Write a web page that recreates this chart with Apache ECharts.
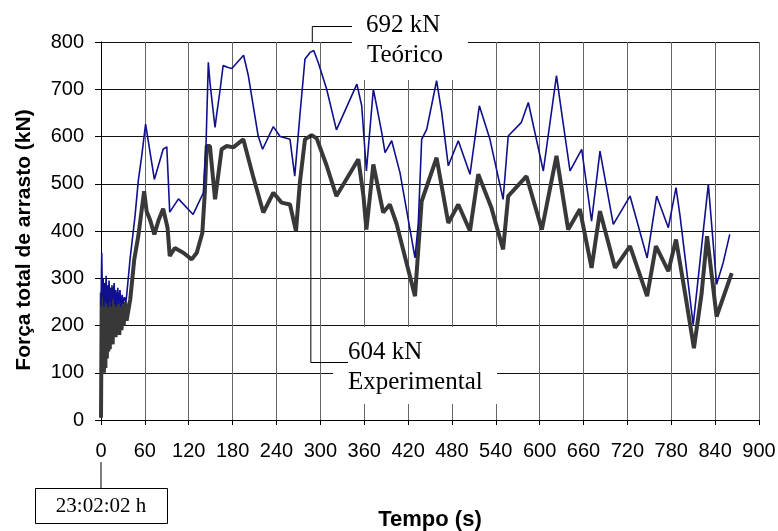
<!DOCTYPE html>
<html>
<head>
<meta charset="utf-8">
<script src="https://cdn.jsdelivr.net/npm/echarts@6/dist/echarts.min.js"></script>
<style>
html,body{margin:0;padding:0;background:#fff;}
#chart{width:778px;height:531px;}
</style>
</head>
<body>
<div id="chart"></div>
<script>
// Experimental series (time s, force kN)
const timeExp = [0,1,2,3,4,5,6,7,8,9,10,11,12,13,14,15,16,17,18,19,20,21,22,24,25,27,28,30,31,33,35,
  40,45.5,51,59,62.4,67,73,79,85,91,94,101,112.6,124,131,138.6,142,144.6,149,156,
  165,172,181,194.6,208,222,235.7,247,258.5,266.7,272,279,288,295,308.7,322,352,359,363,372.5,
  386,395,404,429.5,438.6,459,475,488.7,504.7,516,534,550,557,582,603,623,639,655,671,682.5,
  703,723.6,747,759,776,786.5,798.8,811,821.6,829,842,862.7];
const valExp = [5,270,160,280,100,260,110,270,130,250,145,275,150,260,165,270,160,255,175,260,175,250,180,245,180,250,190,240,200,250,210,
  255,340,389,484,442,424,393,424,447,407,347,364,354,340,354,396,481,580,580,467,
  573,580,577,594,516,439,481,460,456,400,502,594,603,596,538,474,552,474,403,541,
  439,456,417,262,463,555,417,456,400,520,449,361,474,516,403,559,403,446,322,442,
  322,368,262,368,315,382,269,152,269,389,219,311];
// Theoretical series
const timeTeo = [0,1,2,3,4,5,6,7,8,9,10,11,12,13,14,15,16,18,19,20,21,23,24,26,27,29,30,32,34,35,
  39.7,46.5,51,55.7,61,73,85,90,94,106,126,140,143.6,146.8,149,152.8,156,158,163,167,
  174,179,195,201.5,215,221,235.7,245,258.5,265,272,279,286,291,297,308.7,322,350,356.6,363,
  372.5,377,384,388.5,397.6,409,429.5,434,438.6,445.5,459,466,475,488.7,504.7,517.5,532,550,557,575,
  584.5,605,623,630,641.5,657.5,671,682.5,700.7,723.6,747,760,776,786.5,792,810,826,830.7,842,851,860];
const valTeo = [240,354,260,300,240,290,250,305,245,285,238,295,250,280,240,285,255,290,245,275,240,280,245,275,240,265,245,260,250,262,
  340,431,506,559,626,509,573,578,440,468,435,481,580,757,715,662,619,644,700,750,
  746,744,772,729,601,573,621,600,594,516,644,764,778,782,757,700,614,711,665,527,
  700,665,608,566,591,523,343,417,594,615,718,651,538,591,520,665,594,467,601,630,
  672,527,729,651,527,573,421,569,414,474,343,474,407,492,432,202,432,499,287,333,393];

const xMin = 0, xMax = 900, xStep = 60;
const yMin = 0, yMax = 800, yStep = 100;
const xTitle = 'Tempo (s)';
const yTitle = 'Força total de arrasto (kN)';
const noteTeo = ['692 kN', 'Teórico'];
const noteExp = ['604 kN', 'Experimental'];
const startLabel = '23:02:02 h';
const teoPeak = [289, 800];
const expPeak = [287, 604];

const zip = (a, b) => a.map((t, i) => [t, b[i]]);
const sans = 'Liberation Sans';
const serif = 'Liberation Serif';

const chart = echarts.init(document.getElementById('chart'), null, {renderer: 'canvas'});
chart.setOption({
  animation: false,
  backgroundColor: '#fff',
  grid: {left: 101, right: 19, top: 42, bottom: 111, containLabel: false, outerBoundsMode: 'none'},
  xAxis: {
    type: 'value', min: xMin, max: xMax, interval: xStep,
    axisLine: {show: true, onZero: false, lineStyle: {color: '#000', width: 1}},
    axisTick: {show: true, inside: false, length: 5, lineStyle: {color: '#000'}},
    axisLabel: {color: '#000', fontFamily: sans, fontSize: 20, margin: 21},
    splitLine: {show: true, lineStyle: {color: '#666', width: 1}},
    name: xTitle, nameLocation: 'middle', nameGap: 89,
    nameTextStyle: {color: '#000', fontFamily: sans, fontSize: 22, fontWeight: 'bold'}
  },
  yAxis: {
    type: 'value', min: yMin, max: yMax, interval: yStep,
    axisLine: {show: true, lineStyle: {color: '#000', width: 1}},
    axisTick: {show: true, inside: false, length: 6, lineStyle: {color: '#000'}},
    axisLabel: {color: '#000', fontFamily: sans, fontSize: 20, margin: 17},
    splitLine: {show: true, lineStyle: {color: '#111', width: 1}}
  },
  series: [
    {type: 'line', name: 'Experimental', data: zip(timeExp, valExp), showSymbol: false,
     lineStyle: {color: '#383838', width: 4}, z: 2},
    {type: 'line', name: 'Teórico', data: zip(timeTeo, valTeo), showSymbol: false,
     lineStyle: {color: '#10108c', width: 1.6}, z: 3}
  ]
});

const pTeo = chart.convertToPixel({gridIndex: 0}, teoPeak);
const pExp = chart.convertToPixel({gridIndex: 0}, expPeak);
const p0 = chart.convertToPixel({gridIndex: 0}, [0, 0]);

chart.setOption({
  graphic: [
    // y axis title
    {type: 'text', x: 24, y: 240, rotation: Math.PI / 2,
     style: {text: yTitle, fontFamily: sans, fontSize: 21, fontWeight: 'bold', fill: '#000', align: 'center', verticalAlign: 'middle'}},
    // top annotation box
    {type: 'rect', shape: {x: 352, y: 0, width: 116, height: 80}, style: {fill: '#fff'}, z: 50},
    {type: 'polyline', shape: {points: [[pTeo[0], pTeo[1]], [pTeo[0], 26.5], [352, 26.5]]}, style: {stroke: '#000', lineWidth: 1, fill: null}, z: 51},
    {type: 'text', x: 366, y: 25, style: {text: noteTeo[0], fontFamily: serif, fontSize: 25, fill: '#000', align: 'left', verticalAlign: 'middle'}, z: 52},
    {type: 'text', x: 367, y: 55, style: {text: noteTeo[1], fontFamily: serif, fontSize: 25, fill: '#000', align: 'left', verticalAlign: 'middle'}, z: 52},
    // bottom annotation box
    {type: 'rect', shape: {x: 333, y: 327, width: 164, height: 77}, style: {fill: '#fff'}, z: 50},
    {type: 'polyline', shape: {points: [[pExp[0], pExp[1]], [pExp[0], 362.5], [348, 362.5]]}, style: {stroke: '#000', lineWidth: 1, fill: null}, z: 51},
    {type: 'text', x: 348, y: 352, style: {text: noteExp[0], fontFamily: serif, fontSize: 25, fill: '#000', align: 'left', verticalAlign: 'middle'}, z: 52},
    {type: 'text', x: 348, y: 382, style: {text: noteExp[1], fontFamily: serif, fontSize: 25, fill: '#000', align: 'left', verticalAlign: 'middle'}, z: 52},
    // start time box
    {type: 'line', shape: {x1: p0[0], y1: 462, x2: p0[0], y2: 488}, style: {stroke: '#000', lineWidth: 1}, z: 51},
    {type: 'rect', shape: {x: 35.5, y: 488.5, width: 132, height: 35}, style: {fill: '#fff', stroke: '#000', lineWidth: 1}, z: 51},
    {type: 'text', x: 101, y: 506, style: {text: startLabel, fontFamily: serif, fontSize: 21, fill: '#000', align: 'center', verticalAlign: 'middle'}, z: 52}
  ]
});
</script>
</body>
</html>
